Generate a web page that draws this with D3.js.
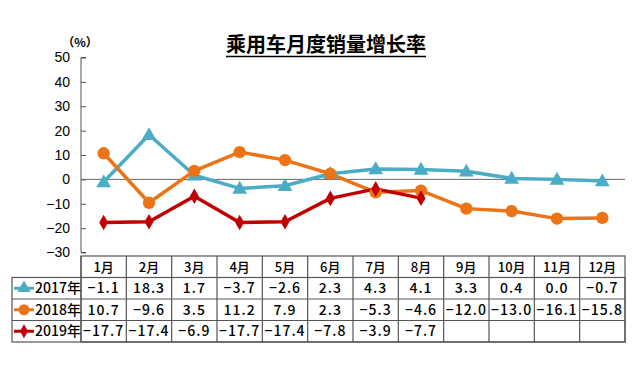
<!DOCTYPE html>
<html>
<head>
<meta charset="utf-8">
<script src="https://cdn.jsdelivr.net/npm/d3@7"></script>
<style>
  body { margin: 0; background: #fff; }
  svg text { font-family: "Liberation Sans", Arial, sans-serif; }
</style>
</head>
<body>
<svg id="chart" width="640" height="366"></svg>
<script>
const months = ["1月","2月","3月","4月","5月","6月","7月","8月","9月","10月","11月","12月"];
const seriesNames = ["2017年","2018年","2019年"];
const v2017 = [-1.1, 18.3, 1.7, -3.7, -2.6, 2.3, 4.3, 4.1, 3.3, 0.4, 0.0, -0.7];
const v2018 = [10.7, -9.6, 3.5, 11.2, 7.9, 2.3, -5.3, -4.6, -12.0, -13.0, -16.1, -15.8];
const v2019 = [-17.7, -17.4, -6.9, -17.7, -17.4, -7.8, -3.9, -7.7];
const yTicks = [50, 40, 30, 20, 10, 0, -10, -20, -30];
const colors = ["#4bacc6", "#ec7417", "#c00000"];
const shapes = [d3.symbolTriangle, d3.symbolCircle, d3.symbolDiamond];
const sizes = [95, 120, 70];

const svg = d3.select("#chart");

const left = 81, right = 625;
const x = d3.scaleBand().domain(months).range([left, right]);
const y = d3.scaleLinear().domain([-30, 50]).range([252.5, 57.5]);

// title
const title = svg.append("text")
    .attr("x", 326).attr("y", 52)
    .attr("text-anchor", "middle")
    .style("font-family", "'Noto Sans CJK SC', sans-serif")
    .style("font-size", "20px")
    .style("font-weight", "bold")
    .text("乘用车月度销量增长率");
const tb = title.node().getBBox();
svg.append("line")
    .attr("x1", tb.x).attr("x2", tb.x + tb.width)
    .attr("y1", 56.5).attr("y2", 56.5)
    .attr("stroke", "#000").attr("stroke-width", 1.3);

svg.append("text")
    .attr("x", 80).attr("y", 47)
    .attr("text-anchor", "middle")
    .style("font-family", "'Noto Sans CJK SC', sans-serif")
    .style("font-size", "12px")
    .style("font-weight", "bold")
    .text("（%）");

// y axis, ticks pointing into the plot
const yAxis = d3.axisRight(y).tickValues(yTicks).tickSize(5).tickFormat(d => d3.format("")(d));
const ya = svg.append("g").attr("transform", `translate(${left},0)`).call(yAxis);
ya.select(".domain").attr("stroke", "#555").attr("d", `M5,${y(50)}H0V${y(-30)}H5`);
ya.selectAll(".tick line").attr("stroke", "#555");
ya.selectAll(".tick text")
    .attr("x", -11).attr("text-anchor", "end")
    .style("font-size", "14px").attr("fill", "#000");

// zero line
svg.append("line")
    .attr("x1", left).attr("x2", right)
    .attr("y1", y(0)).attr("y2", y(0))
    .attr("stroke", "#666").attr("stroke-width", 1);

const allSeries = [v2017, v2018, v2019];
const cx = i => x(months[i]) + x.bandwidth() / 2;

const line = d3.line().x((d, i) => cx(i)).y(d => y(d));
allSeries.forEach((vals, k) => {
  svg.append("path")
      .datum(vals)
      .attr("fill", "none")
      .attr("stroke", colors[k])
      .attr("stroke-width", 3.5)
      .attr("stroke-linejoin", "round")
      .attr("d", line);
});
allSeries.forEach((vals, k) => {
  svg.append("g").selectAll("path")
      .data(vals)
      .enter().append("path")
      .attr("transform", (d, i) => `translate(${cx(i)},${y(d) + (k === 0 ? 1 : 0)})`)
      .attr("d", d3.symbol().type(shapes[k]).size(sizes[k]))
      .attr("fill", colors[k]);
});

// data table
const rowTop = 256, rowH = 21.5, labelLeft = 12;
const grid = "#555";
const fmt = d3.format(".1f");
const tbl = svg.append("g");

tbl.append("rect").attr("x", left).attr("y", rowTop).attr("width", right - left).attr("height", rowH * 4)
    .attr("fill", "none").attr("stroke", grid).attr("stroke-width", 1.2);
tbl.append("rect").attr("x", labelLeft).attr("y", rowTop + rowH).attr("width", right - labelLeft).attr("height", rowH * 3)
    .attr("fill", "none").attr("stroke", grid).attr("stroke-width", 1.2);
[1, 2, 3].forEach(r => {
  tbl.append("line").attr("x1", r === 1 ? left : labelLeft).attr("x2", right)
      .attr("y1", rowTop + rowH * r).attr("y2", rowTop + rowH * r)
      .attr("stroke", grid).attr("stroke-width", 1.2);
});
months.forEach(m => {
  tbl.append("line").attr("x1", x(m)).attr("x2", x(m))
      .attr("y1", rowTop).attr("y2", rowTop + rowH * 4)
      .attr("stroke", grid).attr("stroke-width", 1.2);
});

const cellFont = "'Noto Sans CJK SC', sans-serif";
tbl.selectAll("text.month")
    .data(months)
    .enter().append("text")
    .attr("x", (d, i) => cx(i)).attr("y", rowTop + rowH / 2 + 5)
    .attr("text-anchor", "middle")
    .style("font-family", cellFont).style("font-size", "13px")
    .style("font-weight", 500)
    .text(d => d);

allSeries.forEach((vals, k) => {
  const ry = rowTop + rowH * (k + 1);
  tbl.append("g").selectAll("text")
      .data(vals)
      .enter().append("text")
      .attr("x", (d, i) => cx(i)).attr("y", ry + rowH / 2 + 5)
      .attr("text-anchor", "middle")
      .style("font-family", cellFont).style("font-size", "14px")
      .style("font-weight", 500)
      .style("letter-spacing", "1px")
      .text(d => fmt(d).replace("-", "−"));

  // legend key
  const my = ry + rowH / 2;
  tbl.append("line").attr("x1", 14).attr("x2", 34).attr("y1", my).attr("y2", my)
      .attr("stroke", colors[k]).attr("stroke-width", 3);
  tbl.append("path")
      .attr("transform", `translate(24,${my})`)
      .attr("d", d3.symbol().type(shapes[k]).size(sizes[k] * 0.8))
      .attr("fill", colors[k]);
  tbl.append("text")
      .attr("x", 35).attr("y", my + 5)
      .style("font-family", cellFont).style("font-size", "14px")
      .style("font-weight", 500)
      .text(seriesNames[k]);
});
</script>
</body>
</html>
